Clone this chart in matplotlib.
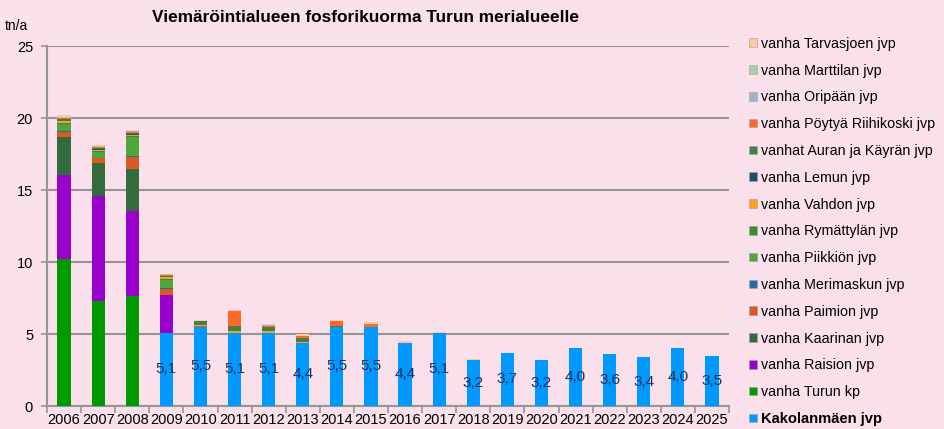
import matplotlib
matplotlib.use("Agg")
import matplotlib.pyplot as plt
from matplotlib.patches import Rectangle
import numpy as np

plt.rcParams['font.family'] = ['Liberation Sans', 'DejaVu Sans']

years = [str(y) for y in range(2006, 2026)]

series_names = [
    "Kakolanmäen jvp",
    "vanha Turun kp",
    "vanha Raision jvp",
    "vanha Kaarinan jvp",
    "vanha Paimion jvp",
    "vanha Merimaskun jvp",
    "vanha Piikkiön jvp",
    "vanha Rymättylän jvp",
    "vanha Vahdon jvp",
    "vanha Lemun jvp",
    "vanhat Auran ja Käyrän jvp",
    "vanha Pöytyä Riihikoski jvp",
    "vanha Oripään jvp",
    "vanha Marttilan jvp",
    "vanha Tarvasjoen jvp",
]

kakola     = [0, 0, 0, 5.1, 5.5, 5.1, 5.1, 4.4, 5.5, 5.5, 4.4, 5.1, 3.2, 3.7, 3.2, 4.0, 3.6, 3.4, 4.0, 3.5]
turku      = [10.2, 7.3, 7.65] + [0] * 17
raisio     = [5.85, 7.3, 5.9, 2.6] + [0] * 16
kaarina    = [2.65, 2.25, 2.9] + [0] * 17
paimio     = [0.32, 0.35, 0.85, 0.42, 0.05] + [0] * 15
merimasku  = [0.05, 0.05, 0.05, 0.04] + [0] * 16
piikkio    = [0.5, 0.4, 1.3, 0.62] + [0] * 16
rymattyla  = [0.1, 0.08, 0.1, 0.05] + [0] * 16
vahto      = [0.1, 0.08, 0.08, 0.12, 0.05, 0.1, 0.08, 0.07] + [0] * 12
lemu       = [0.05, 0.03, 0.05, 0.03, 0, 0, 0.05] + [0] * 13
aura       = [0.1, 0.08, 0.1, 0.08, 0.28, 0.35, 0.25, 0.25, 0.05] + [0] * 11
poytya     = [0.05, 0.05, 0.06, 0.05, 0.05, 1.05, 0.1, 0.15, 0.35, 0.22] + [0] * 10
oripaa     = [0.05, 0.03, 0.03, 0.02, 0, 0, 0.03] + [0] * 13
marttila   = [0.08, 0.05, 0.06, 0.02] + [0] * 16
tarvasjoki = [0.08, 0.05, 0.06, 0.03, 0.07, 0.07, 0.06, 0.12, 0.1, 0.1, 0.1, 0.06, 0.03] + [0] * 7

series_values = [kakola, turku, raisio, kaarina, paimio, merimasku, piikkio, rymattyla,
                 vahto, lemu, aura, poytya, oripaa, marttila, tarvasjoki]

colors = ["#0099FF", "#009900", "#9900CC", "#336B3C", "#DC5A22", "#1F6FA3",
          "#4FA63D", "#3F8A2F", "#FF9F22", "#1E4B6E", "#3F8148", "#FF6A2A",
          "#9FB2CA", "#A8D0A8", "#FFC89E"]

title = "Viemäröintialueen fosforikuorma Turun merialueelle"
unit = "tn/a"

bg = "#F9E0EA"
fig = plt.figure(figsize=(9.44, 4.29), dpi=100, facecolor=bg)
ax = fig.add_axes([47 / 944, 1 - 406 / 429, (729 - 47) / 944, (406 - 46) / 429])
ax.set_facecolor(bg)

x = np.arange(len(years))
bottom = np.zeros(len(years))
handles = []
for name, vals, col in zip(series_names, series_values, colors):
    v = np.array(vals, dtype=float)
    ax.bar(x, v, width=0.39, bottom=bottom, color=col, edgecolor='none', zorder=3)
    bottom += v
    handles.append(Rectangle((0, 0), 1, 1, facecolor=col, edgecolor='#a0a0a0', linewidth=0.4))

for xi, v in zip(x, kakola):
    if v > 0:
        ax.text(xi, v / 2, f"{v:.1f}".replace('.', ','), ha='center', va='center',
                fontsize=11, color='#1F2F55', zorder=4)

ax.set_xlim(-0.5, len(years) - 0.5)
ax.set_ylim(0, 25)
ax.set_yticks([0, 5, 10, 15, 20, 25])
ax.yaxis.grid(True, color='#959595', linewidth=1.5, zorder=0)
ax.set_axisbelow(True)
ax.tick_params(axis='y', length=4, width=1.2, color='#959595', labelsize=10.5, pad=6)
ax.set_xticks(x)
ax.set_xticklabels(years)
ax.set_xticks(np.arange(-0.5, len(years)), minor=True)
ax.tick_params(axis='x', which='major', length=0, labelsize=10.5, pad=5)
ax.tick_params(axis='x', which='minor', length=5, width=1.2, color='#959595')
for s in ['top', 'right']:
    ax.spines[s].set_visible(False)
for s in ['left', 'bottom']:
    ax.spines[s].set_color('#959595')
    ax.spines[s].set_linewidth(1.5)

fig.text(366 / 944, 1 - 18 / 429, title, ha='center', va='center', fontsize=12.4, fontweight='bold')
fig.text(5 / 944, 1 - 26 / 429, unit, ha='left', va='center', fontsize=10)

leg = fig.legend(handles[::-1], series_names[::-1], loc='upper left',
                 bbox_to_anchor=(743 / 944, 1 - 31 / 429), frameon=False,
                 fontsize=10.3, handlelength=0.55, handleheight=0.55, handletextpad=0.3,
                 labelspacing=0.895, borderaxespad=0)
leg.get_texts()[-1].set_fontweight('bold')
leg.get_texts()[-1].set_fontsize(10.6)

fig.savefig("out.png", dpi=100, facecolor=bg)
